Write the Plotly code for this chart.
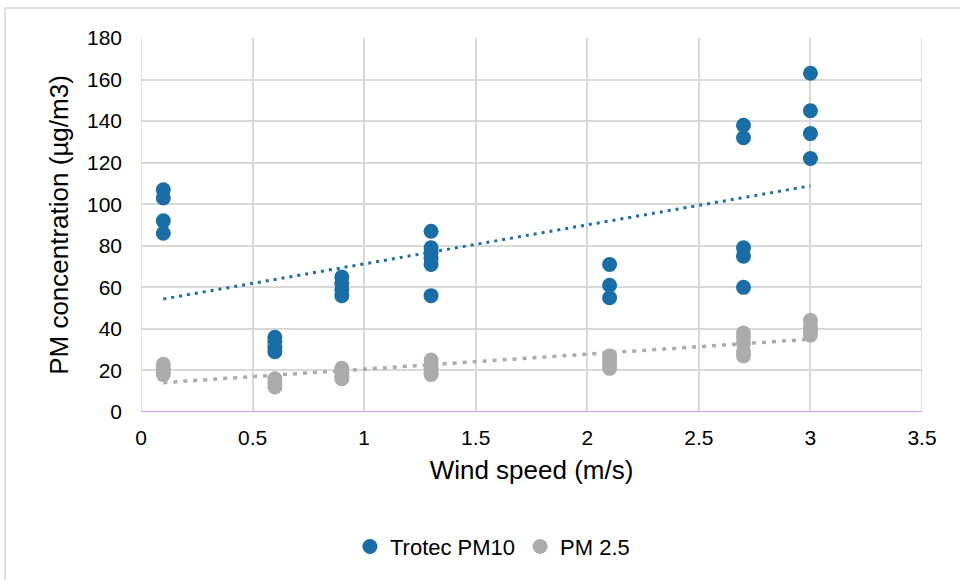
import numpy as np
import plotly.graph_objects as go

# Data
pm10_x = [0.1]*4 + [0.6]*4 + [0.9]*4 + [1.3]*6 + [2.1]*3 + [2.7]*5 + [3.0]*4
pm10_y = [107, 103, 92, 86,
          36, 34, 31, 29,
          65, 62, 59, 56,
          87, 79, 77, 74, 71, 56,
          71, 61, 55,
          138, 132, 79, 75, 60,
          163, 145, 134, 122]

pm25_x = [0.1]*4 + [0.6]*3 + [0.9]*4 + [1.3]*5 + [2.1]*4 + [2.7]*5 + [3.0]*4
pm25_y = [23, 21, 19, 18,
          16, 14, 12,
          21, 19, 17, 16,
          25, 23, 21, 19, 18,
          27, 25, 23, 21,
          38, 36, 33, 29, 27,
          44, 41, 39, 37]

x_ticks = [0, 0.5, 1, 1.5, 2, 2.5, 3, 3.5]
y_ticks = [0, 20, 40, 60, 80, 100, 120, 140, 160, 180]

BLUE = "#1a6ea5"
GRAY = "#adaaaa"
FONT = "Liberation Sans, Arial, sans-serif"

def trend(xs, ys):
    k, b = np.polyfit(xs, ys, 1)
    x0, x1 = min(xs), max(xs)
    return [x0, x1], [k * x0 + b, k * x1 + b]

fig = go.Figure()
fig.add_trace(go.Scatter(x=pm10_x, y=pm10_y, mode="markers", name="Trotec PM10",
                         marker=dict(color=BLUE, size=15)))
fig.add_trace(go.Scatter(x=pm25_x, y=pm25_y, mode="markers", name="PM 2.5",
                         marker=dict(color=GRAY, size=15)))
tx, ty = trend(pm10_x, pm10_y)
fig.add_trace(go.Scatter(x=tx, y=ty, mode="lines", showlegend=False,
                         line=dict(color=BLUE, width=3, dash="3px,5px")))
tx, ty = trend(pm25_x, pm25_y)
fig.add_trace(go.Scatter(x=tx, y=ty, mode="lines", showlegend=False,
                         line=dict(color=GRAY, width=3.5, dash="4px,6px")))

fig.add_shape(type="rect", xref="paper", yref="paper",
              x0=-0.174, x1=1.06, y0=-0.5, y1=1.08,
              line=dict(color="#d9d9d9", width=1.5), layer="below")

fig.update_layout(
    width=960, height=580,
    margin=dict(l=141, r=38, t=38, b=168),
    paper_bgcolor="white", plot_bgcolor="white",
    font=dict(family=FONT, color="black", size=21),
    showlegend=True,
    legend=dict(orientation="h", x=0.45, xanchor="center", y=-0.36, yanchor="middle",
                font=dict(size=22), itemwidth=30, traceorder="normal"),
    xaxis=dict(range=[0, 3.5], tickvals=x_ticks, ticktext=[str(v) for v in x_ticks],
               showgrid=True, gridcolor="#d9d9d9", gridwidth=1.5,
               zeroline=False, showline=False, ticks="", ticklabelstandoff=11,
               tickfont=dict(size=21),
               title=dict(text="Wind speed (m/s)", font=dict(size=26), standoff=12)),
    yaxis=dict(range=[0, 180], tickvals=y_ticks,
               showgrid=True, gridcolor="#d9d9d9", gridwidth=1.5,
               zeroline=False, showline=False, ticks="", ticklabelstandoff=18,
               tickfont=dict(size=21),
               title=dict(text="PM concentration (µg/m3)", font=dict(size=26), standoff=10)),
)
# purple baseline at y=0
fig.add_shape(type="line", xref="paper", yref="y", x0=0, x1=1, y0=0, y1=0,
              line=dict(color="#c99bf5", width=2))
fig.add_shape(type="line", xref="x", yref="paper", x0=0, x1=0, y0=0, y1=1,
              line=dict(color="#d9d9d9", width=1.5), layer="below")
fig.add_shape(type="line", xref="x", yref="paper", x0=3.5, x1=3.5, y0=0, y1=1,
              line=dict(color="#d9d9d9", width=1.5), layer="below")

fig.write_html("out.html")
